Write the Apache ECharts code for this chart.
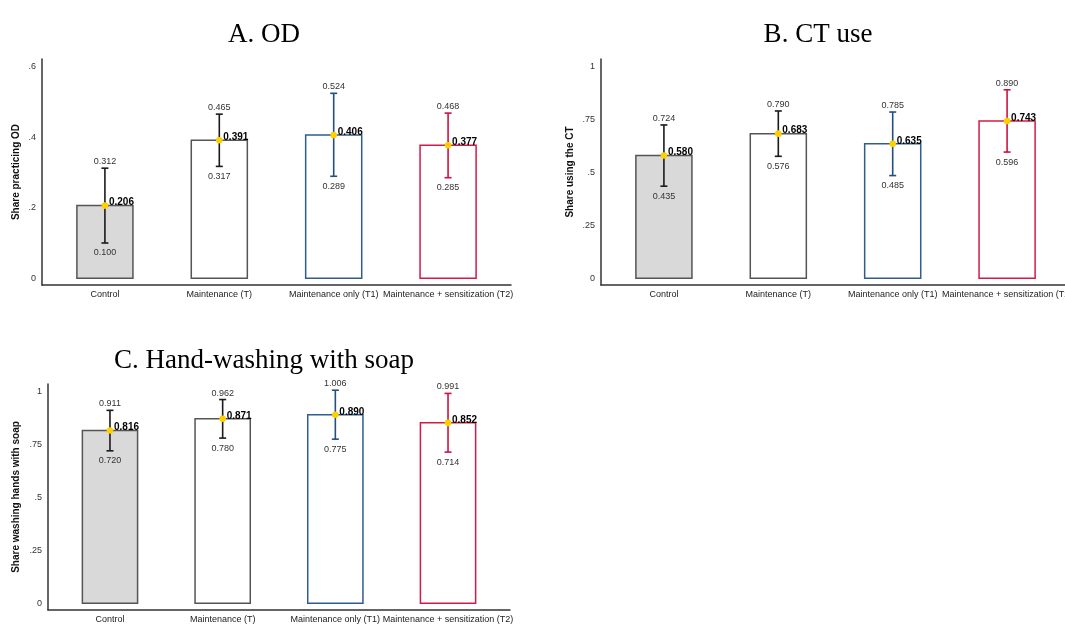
<!DOCTYPE html>
<html>
<head>
<meta charset="utf-8">
<script src="https://cdn.jsdelivr.net/npm/echarts@6/dist/echarts.min.js"></script>
<style>
html,body{margin:0;padding:0;background:#fff;}
#chart{width:1065px;height:624px;}
</style>
</head>
<body>
<div id="chart"></div>
<script>
// ---- data ----
const categories = ['Control', 'Maintenance (T)', 'Maintenance only (T1)', 'Maintenance + sensitization (T2)'];
const panelTitles = ['A. OD', 'B. CT use', 'C. Hand-washing with soap'];
const yTitles = ['Share practicing OD', 'Share using the CT', 'Share washing hands with soap'];

const odMean = [0.206, 0.391, 0.406, 0.377];
const odLow  = [0.100, 0.317, 0.289, 0.285];
const odHigh = [0.312, 0.465, 0.524, 0.468];

const ctMean = [0.580, 0.683, 0.635, 0.743];
const ctLow  = [0.435, 0.576, 0.485, 0.596];
const ctHigh = [0.724, 0.790, 0.785, 0.890];

const hwMean = [0.816, 0.871, 0.890, 0.852];
const hwLow  = [0.720, 0.780, 0.775, 0.714];
const hwHigh = [0.911, 0.962, 1.006, 0.991];

const yTicksOD = [0, 0.2, 0.4, 0.6];
const yTicksCT = [0, 0.25, 0.5, 0.75, 1];
const yTicksHW = [0, 0.25, 0.5, 0.75, 1];

// ---- styles ----
const barFill   = ['#d9d9d9', '#ffffff', '#ffffff', '#ffffff'];
const barBorder = ['#555555', '#555555', '#2e5d8e', '#d31a44'];
const whisker   = ['#1a1a1a', '#1a1a1a', '#244f7d', '#cc1340'];
const sans = "'Liberation Sans', Arial, sans-serif";
const serif = "'Liberation Serif', 'Times New Roman', serif";

const panels = [
  {mean: odMean, low: odLow, high: odHigh, ticks: yTicksOD, grid: {left: 42, top: 59, width: 469, height: 226}, nameGap: 21, title: {x: 259, y: 16}},
  {mean: ctMean, low: ctLow, high: ctHigh, ticks: yTicksCT, grid: {left: 601, top: 59, width: 469, height: 226}, nameGap: 26, title: {x: 813, y: 16}},
  {mean: hwMean, low: hwLow, high: hwHigh, ticks: yTicksHW, grid: {left: 48, top: 384, width: 462, height: 226}, nameGap: 27, title: {x: 259, y: 342}}
];

function fmtTick(v) {
  if (v === 0) return '0';
  if (v === 1) return '1';
  return String(v).replace(/^0/, '');
}

const grids = [], xAxes = [], yAxes = [], series = [], titles = [];
panels.forEach((p, k) => {
  const top = p.ticks[p.ticks.length - 1];
  grids.push(Object.assign({containLabel: false, outerBoundsMode: 'none'}, p.grid));
  titles.push({
    text: panelTitles[k], left: p.title.x, top: p.title.y, textAlign: 'left',
    textStyle: {fontFamily: serif, fontSize: 27, fontWeight: 'normal', color: '#000'}
  });
  xAxes.push({
    type: 'value', gridIndex: k, min: 0.45, max: 4.55,
    splitLine: {show: false}, axisTick: {show: false},
    axisLine: {show: true, onZero: false, lineStyle: {color: '#333', width: 1.5}},
    axisLabel: {
      customValues: [1, 2, 3, 4], margin: 5,
      formatter: v => categories[Math.round(v) - 1] || '',
      fontFamily: sans, fontSize: 9, color: '#222'
    }
  });
  yAxes.push({
    type: 'value', gridIndex: k, min: -0.0316 * top, max: top * 1.0354,
    splitLine: {show: false}, axisTick: {show: false},
    axisLine: {show: true, onZero: false, lineStyle: {color: '#333', width: 1.5}},
    axisLabel: {customValues: p.ticks, formatter: fmtTick, margin: 6, fontFamily: sans, fontSize: 9, color: '#333'},
    name: yTitles[k], nameLocation: 'middle', nameRotate: 90, nameGap: p.nameGap,
    nameTextStyle: {fontFamily: sans, fontSize: 10, fontWeight: 'bold', color: '#111'}
  });
  const data = p.mean.map((m, i) => [i + 1, m, p.low[i], p.high[i], i]);
  series.push({
    type: 'custom', xAxisIndex: k, yAxisIndex: k, data: data, clip: false,
    renderItem: function (params, api) {
      const x = api.value(0), m = api.value(1), lo = api.value(2), hi = api.value(3), i = api.value(4);
      const half = 0.245;
      const a = api.coord([x - half, m]);
      const b = api.coord([x + half, 0]);
      const pm = api.coord([x, m]);
      const ph = api.coord([x, hi]);
      const pl = api.coord([x, lo]);
      const c = whisker[i];
      const capW = 3.5;
      return {
        type: 'group',
        children: [
          {type: 'rect', shape: {x: a[0], y: a[1], width: b[0] - a[0], height: b[1] - a[1]},
           style: {fill: barFill[i], stroke: barBorder[i], lineWidth: 1.5}},
          {type: 'line', shape: {x1: ph[0], y1: ph[1], x2: pl[0], y2: pl[1]}, style: {stroke: c, lineWidth: 1.6}},
          {type: 'line', shape: {x1: ph[0] - capW, y1: ph[1], x2: ph[0] + capW, y2: ph[1]}, style: {stroke: c, lineWidth: 1.6}},
          {type: 'line', shape: {x1: pl[0] - capW, y1: pl[1], x2: pl[0] + capW, y2: pl[1]}, style: {stroke: c, lineWidth: 1.6}},
          {type: 'circle', shape: {cx: pm[0], cy: pm[1], r: 3.3}, style: {fill: '#ffd000', stroke: null}},
          {type: 'text', x: ph[0], y: ph[1] - 6.5,
           style: {text: hi.toFixed(3), align: 'center', verticalAlign: 'middle', fill: '#333', font: '9px ' + sans}},
          {type: 'text', x: pl[0], y: pl[1] + 10,
           style: {text: lo.toFixed(3), align: 'center', verticalAlign: 'middle', fill: '#333', font: '9px ' + sans}},
          {type: 'text', x: pm[0] + 4, y: pm[1] - 3,
           style: {text: m.toFixed(3), align: 'left', verticalAlign: 'middle', fill: '#000', font: 'bold 10px ' + sans}}
        ]
      };
    }
  });
});

const chart = echarts.init(document.getElementById('chart'), null, {renderer: 'canvas'});
chart.setOption({
  backgroundColor: '#fff',
  animation: false,
  title: titles.map(t => Object.assign(t, {textAlign: 'center'})),
  grid: grids,
  xAxis: xAxes,
  yAxis: yAxes,
  series: series
});
</script>
</body>
</html>
